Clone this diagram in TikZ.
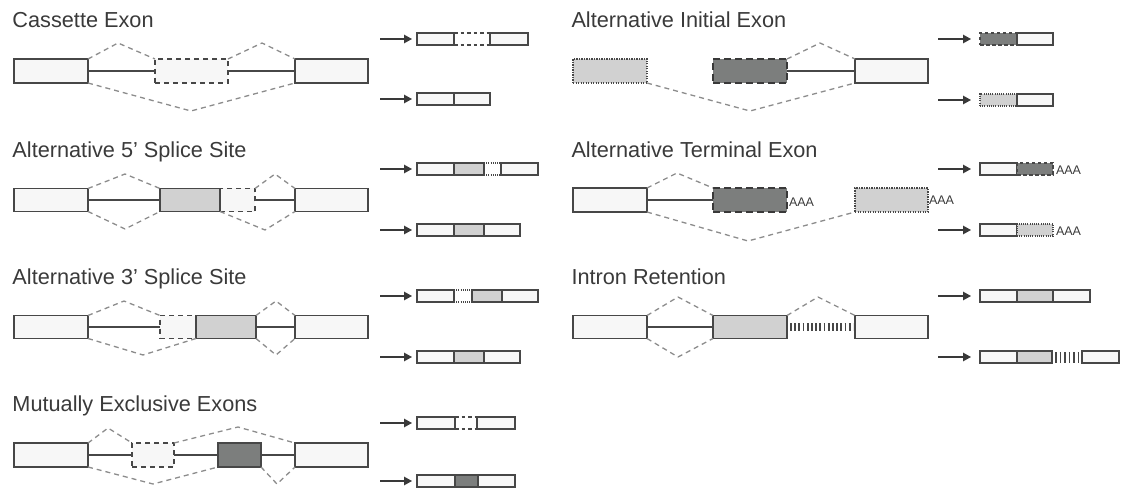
\documentclass[tikz,border=0pt]{standalone}
\usepackage{fontspec}
\setmainfont{Liberation Sans}
\usetikzlibrary{arrows.meta}
\definecolor{bord}{HTML}{474747}
\definecolor{exwhite}{HTML}{F7F7F7}
\definecolor{exgray}{HTML}{D1D1D1}
\definecolor{exdark}{HTML}{7C7E7D}
\definecolor{spl}{HTML}{8C8C8C}
\definecolor{txt}{HTML}{3A3A3A}
\tikzset{
 every node/.style={inner sep=0pt, outer sep=0pt},
 exw/.style={draw=bord, fill=exwhite, line width=1.9pt},
 exg/.style={draw=bord, fill=exgray, line width=1.9pt},
 exd/.style={draw=bord, fill=exdark, line width=1.9pt},
 exdash/.style={draw=bord, fill=exwhite, line width=1.9pt, dash pattern=on 5pt off 4pt},
 exdarkdash/.style={draw=bord!80!black, fill=exdark, line width=1.9pt, dash pattern=on 7pt off 4pt},
 exgraydot/.style={draw=bord, fill=exgray, line width=1.6pt, dash pattern=on 1.2pt off 1.3pt},
 tw/.style={draw=bord, fill=exwhite, line width=1.4pt},
 tg/.style={draw=bord, fill=exgray, line width=1.4pt},
 td/.style={draw=bord, fill=exdark, line width=1.4pt},
 tdarkdash/.style={draw=bord, fill=exdark, line width=1.4pt, dash pattern=on 3.5pt off 2.5pt},
 tgraydot/.style={draw=bord, fill=exgray, line width=1.3pt, dash pattern=on 1pt off 1.2pt},
 tmid/.style={draw=none},
 tdashline/.style={draw=bord, line width=1.4pt, dash pattern=on 3.5pt off 3pt},
 tdotline/.style={draw=bord, line width=1.3pt, dash pattern=on 1pt off 1.2pt},
 intron/.style={draw=bord, line width=2.1pt},
 splice/.style={draw=spl, line width=1.3pt, dash pattern=on 5pt off 4pt},
 arr/.style={draw=bord!80!black, line width=1.3pt, -{Triangle[length=8pt,width=8.5pt]}},
 title/.style={anchor=base west, text=txt, font=\fontsize{21.7}{25}\selectfont},
 polya/.style={anchor=west, text=txt, font=\fontsize{12.5}{14}\selectfont},
}
\newcommand\seg[6]{\pgfmathsetmacro\segw{#4-#3}\node[#1, anchor=west, minimum width=\segw pt, minimum height=#6pt] (#2) at (#3,#5) {};}
\newcommand\midlines[2]{\draw[#1] (#2.north west) -- (#2.north east) (#2.south west) -- (#2.south east);}
\begin{document}
\begin{tikzpicture}[x=1pt,y=-1pt]
\useasboundingbox (0,0) rectangle (1121,489);

% ================= Cassette Exon =================
\node[title] (tce) at (12.5,27.7) {Cassette Exon};
\seg{exdash}{ce2}{155}{228}{71}{24}
\seg{exw}{ce1}{14}{88}{71}{24}
\seg{exw}{ce3}{295}{368}{71}{24}
\draw[intron] (ce1.east) -- (ce2.west);
\draw[intron] (ce2.east) -- (ce3.west);
\coordinate (cep1) at (118,43);
\coordinate (cep2) at (262,43);
\coordinate (cep3) at (191,111);
\draw[splice] (ce1.north east) -- (cep1) -- (ce2.north west);
\draw[splice] (ce2.north east) -- (cep2) -- (ce3.north west);
\draw[splice] (ce1.south east) -- (cep3) -- (ce3.south west);
\seg{tw}{ct1a}{417}{454}{39}{12}
\seg{tmid}{ct1b}{454}{490}{39}{12}
\seg{tw}{ct1c}{490}{528}{39}{12}
\midlines{tdashline}{ct1b}
\seg{tw}{ct2a}{417}{454}{99}{12}
\seg{tw}{ct2b}{454}{490}{99}{12}
\coordinate (cea1) at (380,39);
\coordinate (cea2) at (380,99);
\draw[arr, shorten >=5pt] (cea1) -- (ct1a.west);
\draw[arr, shorten >=5pt] (cea2) -- (ct2a.west);

% ================= Alternative 5' Splice Site =================
\node[title] (ta5) at (12.5,157.5) {Alternative 5’ Splice Site};
\seg{exdash}{a53}{220}{255}{200}{23}
\seg{exw}{a51}{14}{88}{200}{23}
\seg{exg}{a52}{160}{220}{200}{23}
\seg{exw}{a54}{295}{368}{200}{23}
\draw[intron] (a51.east) -- (a52.west);
\draw[intron] (a53.east) -- (a54.west);
\coordinate (a5p1) at (125,174);
\coordinate (a5p2) at (275,174);
\coordinate (a5p3) at (125,229);
\coordinate (a5p4) at (265,230);
\draw[splice] (a51.north east) -- (a5p1) -- (a52.north west);
\draw[splice] (a53.north east) -- (a5p2) -- (a54.north west);
\draw[splice] (a51.south east) -- (a5p3) -- (a52.south west);
\draw[splice] (a52.south east) -- (a5p4) -- (a54.south west);
\seg{tw}{a5t1a}{417}{454}{169}{12}
\seg{tg}{a5t1b}{454}{484}{169}{12}
\seg{tmid}{a5t1c}{484}{501}{169}{12}
\seg{tw}{a5t1d}{501}{538}{169}{12}
\midlines{tdotline}{a5t1c}
\seg{tw}{a5t2a}{417}{454}{230}{12}
\seg{tg}{a5t2b}{454}{484}{230}{12}
\seg{tw}{a5t2c}{484}{520}{230}{12}
\coordinate (a5a1) at (380,169);
\coordinate (a5a2) at (380,230);
\draw[arr, shorten >=5pt] (a5a1) -- (a5t1a.west);
\draw[arr, shorten >=5pt] (a5a2) -- (a5t2a.west);

% ================= Alternative 3' Splice Site =================
\node[title] (ta3) at (12.5,284.7) {Alternative 3’ Splice Site};
\seg{exdash}{a32}{160}{196}{327}{23}
\seg{exw}{a31}{14}{88}{327}{23}
\seg{exg}{a33}{196}{256}{327}{23}
\seg{exw}{a34}{295}{368}{327}{23}
\draw[intron] (a31.east) -- (a32.west);
\draw[intron] (a33.east) -- (a34.west);
\coordinate (a3p1) at (124,301);
\coordinate (a3p2) at (276,301);
\coordinate (a3p3) at (143,355);
\coordinate (a3p4) at (276,355);
\draw[splice] (a31.north east) -- (a3p1) -- (a32.north west);
\draw[splice] (a33.north east) -- (a3p2) -- (a34.north west);
\draw[splice] (a31.south east) -- (a3p3) -- (a33.south west);
\draw[splice] (a33.south east) -- (a3p4) -- (a34.south west);
\seg{tw}{a3t1a}{417}{454}{296}{12}
\seg{tmid}{a3t1b}{454}{472}{296}{12}
\seg{tg}{a3t1c}{472}{502}{296}{12}
\seg{tw}{a3t1d}{502}{538}{296}{12}
\midlines{tdotline}{a3t1b}
\seg{tw}{a3t2a}{417}{454}{357}{12}
\seg{tg}{a3t2b}{454}{484}{357}{12}
\seg{tw}{a3t2c}{484}{520}{357}{12}
\coordinate (a3a1) at (380,296);
\coordinate (a3a2) at (380,357);
\draw[arr, shorten >=5pt] (a3a1) -- (a3t1a.west);
\draw[arr, shorten >=5pt] (a3a2) -- (a3t2a.west);

% ================= Mutually Exclusive Exons =================
\node[title] (tme) at (12.5,411.7) {Mutually Exclusive Exons};
\seg{exdash}{me2}{132}{174}{455}{24}
\seg{exw}{me1}{14}{88}{455}{24}
\seg{exd}{me3}{218}{261}{455}{24}
\seg{exw}{me4}{295}{368}{455}{24}
\draw[intron] (me1.east) -- (me2.west);
\draw[intron] (me2.east) -- (me3.west);
\draw[intron] (me3.east) -- (me4.west);
\coordinate (mep1) at (108,428);
\coordinate (mep2) at (238,427);
\coordinate (mep3) at (153,484);
\coordinate (mep4) at (277,484);
\draw[splice] (me1.north east) -- (mep1) -- (me2.north west);
\draw[splice] (me2.north east) -- (mep2) -- (me4.north west);
\draw[splice] (me1.south east) -- (mep3) -- (me3.south west);
\draw[splice] (me3.south east) -- (mep4) -- (me4.south west);
\seg{tw}{met1a}{417}{455}{423}{12}
\seg{tmid}{met1b}{455}{477}{423}{12}
\seg{tw}{met1c}{477}{515}{423}{12}
\midlines{tdashline}{met1b}
\seg{tw}{met2a}{417}{455}{481}{12}
\seg{td}{met2b}{455}{478}{481}{12}
\seg{tw}{met2c}{478}{515}{481}{12}
\coordinate (mea1) at (380,423);
\coordinate (mea2) at (380,481);
\draw[arr, shorten >=5pt] (mea1) -- (met1a.west);
\draw[arr, shorten >=5pt] (mea2) -- (met2a.west);

% ================= Alternative Initial Exon =================
\node[title] (tai) at (571.5,27.7) {Alternative Initial Exon};
\seg{exgraydot}{ai1}{573}{647}{71}{24}
\seg{exdarkdash}{ai2}{713}{787}{71}{24}
\seg{exw}{ai3}{855}{928}{71}{24}
\draw[intron] (ai2.east) -- (ai3.west);
\coordinate (aip1) at (820,43);
\coordinate (aip2) at (750,111);
\draw[splice] (ai2.north east) -- (aip1) -- (ai3.north west);
\draw[splice] (ai1.south east) -- (aip2) -- (ai3.south west);
\seg{tdarkdash}{ait1a}{980}{1017}{39}{12}
\seg{tw}{ait1b}{1017}{1053}{39}{12}
\seg{tgraydot}{ait2a}{980}{1017}{100}{12}
\seg{tw}{ait2b}{1017}{1053}{100}{12}
\coordinate (aia1) at (938,39);
\coordinate (aia2) at (938,100);
\draw[arr, shorten >=9pt] (aia1) -- (ait1a.west);
\draw[arr, shorten >=9pt] (aia2) -- (ait2a.west);

% ================= Alternative Terminal Exon =================
\node[title] (tat) at (571.5,157.5) {Alternative Terminal Exon};
\seg{exw}{at1}{573}{647}{200}{24}
\seg{exdarkdash}{at2}{713}{787}{200}{24}
\seg{exgraydot}{at3}{855}{928}{200}{24}
\draw[intron] (at1.east) -- (at2.west);
\coordinate (atp1) at (677,173);
\coordinate (atp2) at (748,241);
\draw[splice] (at1.north east) -- (atp1) -- (at2.north west);
\draw[splice] (at1.south east) -- (atp2) -- (at3.south west);
\node[polya] (atx1) at (789,202) {AAA};
\node[polya] (atx2) at (929,200) {AAA};
\seg{tw}{att1a}{980}{1017}{169}{12}
\seg{tdarkdash}{att1b}{1017}{1053}{169}{12}
\seg{tw}{att2a}{980}{1017}{230}{12}
\seg{tgraydot}{att2b}{1017}{1053}{230}{12}
\node[polya] (atx3) at (1056,170) {AAA};
\node[polya] (atx4) at (1056,231) {AAA};
\coordinate (ata1) at (938,169);
\coordinate (ata2) at (938,230);
\draw[arr, shorten >=9pt] (ata1) -- (att1a.west);
\draw[arr, shorten >=9pt] (ata2) -- (att2a.west);

% ================= Intron Retention =================
\node[title] (tir) at (571.5,284.7) {Intron Retention};
\seg{exw}{ir1}{573}{647}{327}{23}
\seg{exg}{ir2}{713}{787}{327}{23}
\seg{exw}{ir3}{855}{928}{327}{23}
\draw[intron] (ir1.east) -- (ir2.west);
\draw[draw=bord, line width=8pt, dash pattern=on 1.8pt off 2.4pt, shorten <=3pt, shorten >=2pt] (ir2.east) -- (ir3.west);
\coordinate (irp1) at (678,297);
\coordinate (irp2) at (818,297);
\coordinate (irp3) at (678,357);
\draw[splice] (ir1.north east) -- (irp1) -- (ir2.north west);
\draw[splice] (ir2.north east) -- (irp2) -- (ir3.north west);
\draw[splice] (ir1.south east) -- (irp3) -- (ir2.south west);
\seg{tw}{irt1a}{980}{1017}{296}{12}
\seg{tg}{irt1b}{1017}{1053}{296}{12}
\seg{tw}{irt1c}{1053}{1090}{296}{12}
\seg{tw}{irt2a}{980}{1017}{357}{12}
\seg{tg}{irt2b}{1017}{1052}{357}{12}
\seg{tmid}{irt2c}{1052}{1082}{357}{12}
\seg{tw}{irt2d}{1082}{1119}{357}{12}
\draw[draw=bord, line width=11pt, dash pattern=on 1.6pt off 2.9pt, shorten <=3pt] (irt2c.west) -- (irt2c.east);
\coordinate (ira1) at (938,296);
\coordinate (ira2) at (938,357);
\draw[arr, shorten >=9pt] (ira1) -- (irt1a.west);
\draw[arr, shorten >=9pt] (ira2) -- (irt2a.west);
\end{tikzpicture}
\end{document}
